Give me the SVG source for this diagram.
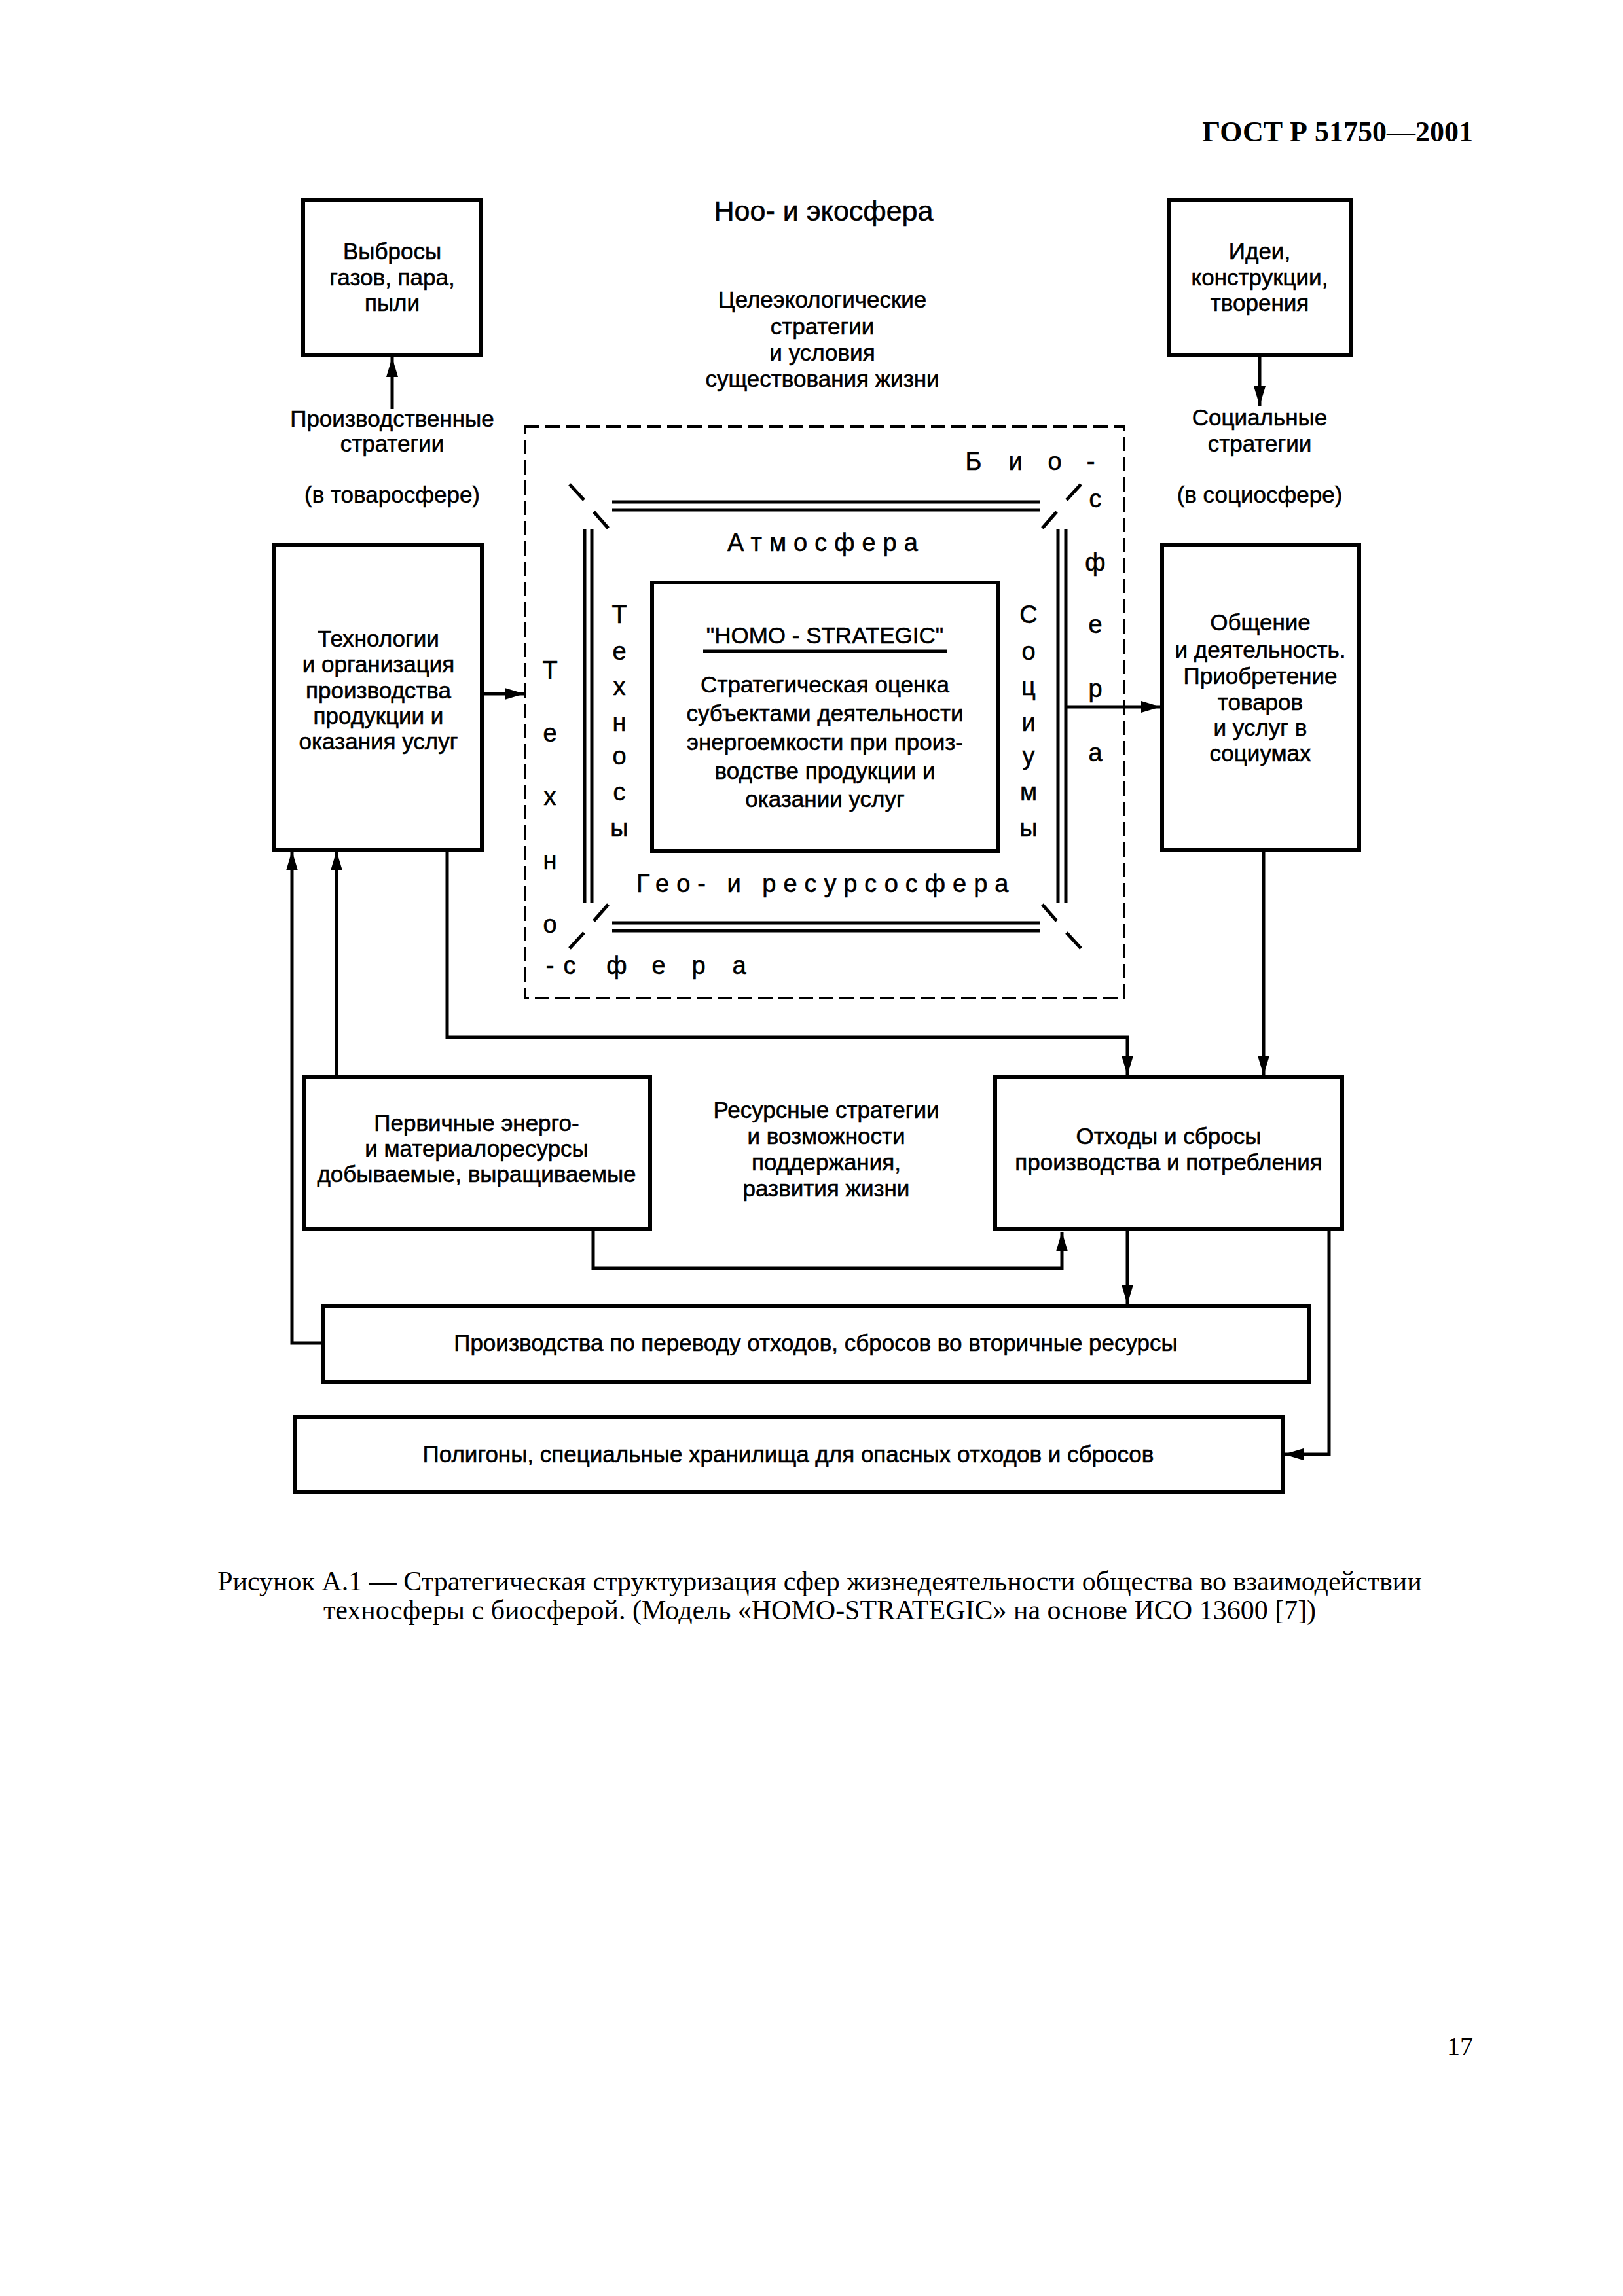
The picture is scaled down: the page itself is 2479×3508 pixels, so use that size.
<svg xmlns="http://www.w3.org/2000/svg" width="2479" height="3508" viewBox="0 0 2479 3508">
<style>
.bg{fill:#fff}
.box{fill:none;stroke:#000;stroke-width:6}
.dash{fill:none;stroke:#000;stroke-width:4;stroke-dasharray:22 9}
.dbl{stroke:#000;stroke-width:5;fill:none}
.diag{stroke:#000;stroke-width:5;fill:none}
.conn{fill:none;stroke:#000;stroke-width:5;marker-end:url(#arr)}
.line{fill:none;stroke:#000;stroke-width:5}
.t{font-family:"Liberation Sans",Arial,sans-serif;font-size:35px;text-anchor:middle;fill:#000;stroke:#000;stroke-width:0.6}
.big{font-size:43px}
.lt{font-size:38px}
.sp{font-size:38px;letter-spacing:11px;text-anchor:start}
.serif{font-family:"Liberation Serif","Times New Roman",serif;fill:#000}
</style>
<defs>
<marker id="arr" markerUnits="userSpaceOnUse" markerWidth="30" markerHeight="18" refX="30" refY="9" orient="auto">
<path d="M0,0 L30,9 L0,18 z" fill="#000"/>
</marker>
</defs>
<rect class="bg" x="0" y="0" width="2479" height="3508"/>

<text class="serif" x="2250" y="216" font-size="44" font-weight="bold" text-anchor="end">ГОСТ Р 51750—2001</text>

<g id="connectors">
<line class="conn" x1="599" y1="625" x2="599" y2="546"/>
<line class="conn" x1="1924" y1="542" x2="1924" y2="620"/>
<line class="conn" x1="736" y1="1060" x2="801" y2="1060"/>
<line class="conn" x1="1630" y1="1080" x2="1773" y2="1080"/>
<polyline class="conn" points="683,1298 683,1585 1722,1585 1722,1643"/>
<line class="conn" x1="1930" y1="1298" x2="1930" y2="1643"/>
<polyline class="conn" points="493,2052 446,2052 446,1300"/>
<line class="conn" x1="514" y1="1645" x2="514" y2="1300"/>
<polyline class="conn" points="906,1880 906,1938 1622,1938 1622,1882"/>
<line class="conn" x1="1722" y1="1880" x2="1722" y2="1993"/>
<polyline class="conn" points="2030,1880 2030,2222 1961,2222"/>
</g>

<g id="vybrosy">
<rect class="box" x="463" y="305" width="272" height="238"/>
<text class="t" x="599" y="396">Выбросы</text>
<text class="t" x="599" y="436">газов, пара,</text>
<text class="t" x="599" y="475">пыли</text>
</g>

<g id="proizv-strategii">
<text class="t" x="599" y="652">Производственные</text>
<text class="t" x="599" y="690">стратегии</text>
<text class="t" x="599" y="768">(в товаросфере)</text>
</g>

<g id="noo">
<text class="t big" x="1258" y="337">Ноо- и экосфера</text>
<text class="t" x="1256" y="470">Целеэкологические</text>
<text class="t" x="1256" y="511">стратегии</text>
<text class="t" x="1256" y="551">и условия</text>
<text class="t" x="1256" y="591">существования жизни</text>
</g>

<g id="idei">
<rect class="box" x="1785" y="305" width="278" height="237"/>
<text class="t" x="1924" y="396">Идеи,</text>
<text class="t" x="1924" y="436">конструкции,</text>
<text class="t" x="1924" y="475">творения</text>
</g>

<g id="soc-strategii">
<text class="t" x="1924" y="650">Социальные</text>
<text class="t" x="1924" y="690">стратегии</text>
<text class="t" x="1924" y="768">(в социосфере)</text>
</g>

<g id="tehnologii">
<rect class="box" x="419" y="832" width="317" height="466"/>
<text class="t" x="578" y="988">Технологии</text>
<text class="t" x="578" y="1027">и организация</text>
<text class="t" x="578" y="1067">производства</text>
<text class="t" x="578" y="1106">продукции и</text>
<text class="t" x="578" y="1145">оказания услуг</text>
</g>

<g id="obschenie">
<rect class="box" x="1775" y="832" width="301" height="466"/>
<text class="t" x="1925" y="963">Общение</text>
<text class="t" x="1925" y="1005">и деятельность.</text>
<text class="t" x="1925" y="1045">Приобретение</text>
<text class="t" x="1925" y="1085">товаров</text>
<text class="t" x="1925" y="1124">и услуг в</text>
<text class="t" x="1925" y="1163">социумах</text>
</g>

<g id="spheres">
<rect class="dash" x="802" y="652" width="915" height="873"/>
<line class="dbl" x1="935" y1="767" x2="1588" y2="767"/>
<line class="dbl" x1="935" y1="779" x2="1588" y2="779"/>
<line class="dbl" x1="935" y1="1410" x2="1588" y2="1410"/>
<line class="dbl" x1="935" y1="1422" x2="1588" y2="1422"/>
<line class="dbl" x1="893" y1="808" x2="893" y2="1380"/>
<line class="dbl" x1="904" y1="808" x2="904" y2="1380"/>
<line class="dbl" x1="1616" y1="808" x2="1616" y2="1380"/>
<line class="dbl" x1="1628" y1="808" x2="1628" y2="1380"/>
<line class="diag" x1="870" y1="740" x2="892" y2="764"/>
<line class="diag" x1="907" y1="782" x2="929" y2="807"/>
<line class="diag" x1="1651" y1="740" x2="1629" y2="764"/>
<line class="diag" x1="1614" y1="782" x2="1592" y2="807"/>
<line class="diag" x1="870" y1="1449" x2="892" y2="1425"/>
<line class="diag" x1="907" y1="1407" x2="929" y2="1382"/>
<line class="diag" x1="1651" y1="1449" x2="1629" y2="1425"/>
<line class="diag" x1="1614" y1="1407" x2="1592" y2="1382"/>
<text class="t lt"><tspan x="1487" y="718">Б</tspan><tspan x="1551" y="718">и</tspan><tspan x="1611" y="718">о</tspan><tspan x="1666" y="718">-</tspan></text>
<text class="t lt"><tspan x="1673" y="775">с</tspan><tspan x="1673" y="872">ф</tspan><tspan x="1673" y="967">е</tspan><tspan x="1673" y="1065">р</tspan><tspan x="1673" y="1163">а</tspan></text>
<text class="t lt"><tspan x="840" y="1037">Т</tspan><tspan x="840" y="1133">е</tspan><tspan x="840" y="1230">х</tspan><tspan x="840" y="1328">н</tspan><tspan x="840" y="1425">о</tspan></text>
<text class="t lt"><tspan x="840" y="1488">-</tspan><tspan x="870" y="1488">с</tspan><tspan x="942" y="1488">ф</tspan><tspan x="1006" y="1488">е</tspan><tspan x="1067" y="1488">р</tspan><tspan x="1129" y="1488">а</tspan></text>
<text class="t lt"><tspan x="946" y="952">Т</tspan><tspan x="946" y="1008">е</tspan><tspan x="946" y="1062">х</tspan><tspan x="946" y="1117">н</tspan><tspan x="946" y="1168">о</tspan><tspan x="946" y="1223">с</tspan><tspan x="946" y="1278">ы</tspan></text>
<text class="t lt"><tspan x="1571" y="952">С</tspan><tspan x="1571" y="1008">о</tspan><tspan x="1571" y="1062">ц</tspan><tspan x="1571" y="1117">и</tspan><tspan x="1571" y="1168">у</tspan><tspan x="1571" y="1223">м</tspan><tspan x="1571" y="1278">ы</tspan></text>
<text class="t sp" x="1111" y="842">Атмосфера</text>
<text class="t sp" x="972" y="1363">Гео- и ресурсосфера</text>
</g>

<g id="homo">
<rect class="box" x="996" y="890" width="528" height="410"/>
<text class="t" x="1260" y="983">"HOMO - STRATEGIC"</text>
<line class="line" x1="1074" y1="995" x2="1446" y2="995" stroke-width="4"/>
<text class="t" x="1260" y="1058">Стратегическая оценка</text>
<text class="t" x="1260" y="1102">субъектами деятельности</text>
<text class="t" x="1260" y="1146">энергоемкости при произ-</text>
<text class="t" x="1260" y="1190">водстве продукции и</text>
<text class="t" x="1260" y="1233">оказании услуг</text>
</g>

<g id="pervichnye">
<rect class="box" x="464" y="1645" width="529" height="233"/>
<text class="t" x="728" y="1728">Первичные энерго-</text>
<text class="t" x="728" y="1767">и материалоресурсы</text>
<text class="t" x="728" y="1806">добываемые, выращиваемые</text>
</g>

<g id="resursnye">
<text class="t" x="1262" y="1708">Ресурсные стратегии</text>
<text class="t" x="1262" y="1748">и возможности</text>
<text class="t" x="1262" y="1788">поддержания,</text>
<text class="t" x="1262" y="1828">развития жизни</text>
</g>

<g id="othody">
<rect class="box" x="1520" y="1645" width="530" height="233"/>
<text class="t" x="1785" y="1748">Отходы и сбросы</text>
<text class="t" x="1785" y="1788">производства и потребления</text>
</g>

<g id="pererabotka">
<rect class="box" x="493" y="1995" width="1507" height="116"/>
<text class="t" x="1246" y="2064">Производства по переводу отходов, сбросов во вторичные ресурсы</text>
</g>

<g id="poligony">
<rect class="box" x="450" y="2165" width="1509" height="115"/>
<text class="t" x="1204" y="2234">Полигоны, специальные хранилища для опасных отходов и сбросов</text>
</g>

<g id="caption">
<text class="serif" x="1252" y="2430" font-size="42" text-anchor="middle">Рисунок А.1 — Стратегическая структуризация сфер жизнедеятельности общества во взаимодействии</text>
<text class="serif" x="1252" y="2474" font-size="42" text-anchor="middle">техносферы с биосферой. (Модель «HOMO-STRATEGIC» на основе ИСО 13600 [7])</text>
</g>

<text class="serif" x="2250" y="3140" font-size="40" text-anchor="end">17</text>
</svg>
